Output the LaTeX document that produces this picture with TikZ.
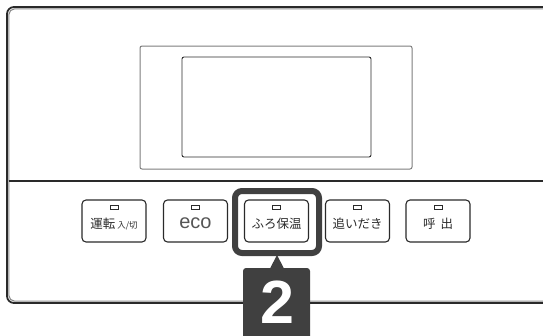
\documentclass[tikz,border=0pt]{standalone}
\usepackage{fontspec}
\newfontfamily\jp{Noto Sans CJK JP}
\newfontfamily\ecofont{Liberation Sans}
\newfontfamily\numfont{Liberation Sans}
\usetikzlibrary{calc}
\definecolor{ink}{HTML}{2A2A2A}
\definecolor{hlgray}{HTML}{404040}
\definecolor{soft}{HTML}{8A8A8A}
\tikzset{
  btn/.style={draw=ink, line width=1.1pt, rounded corners=4pt, minimum width=64pt, minimum height=42pt, inner sep=0pt},
  led/.style={draw=ink, line width=0.7pt, minimum width=8pt, minimum height=4pt, inner sep=0pt},
  lbl/.style={inner sep=0pt, text=ink, font=\jp\fontsize{12.5}{12.5}\selectfont},
}
\begin{document}
\begin{tikzpicture}[x=1pt,y=-1pt]
\path[use as bounding box] (0,0) rectangle (543,335);
\clip (0,0) rectangle (543,335);
% outer frame
\draw[draw=ink, line width=1.8pt, rounded corners=7pt] (7,7) rectangle (570,303);
\draw[draw=soft, line width=1.1pt, rounded corners=5.5pt] (8.9,8.9) rectangle (570,301.1);
% divider
\draw[draw=ink, line width=1.8pt] (8.5,181) -- (543,181);
% screen
\draw[draw=soft!90!black, line width=1pt, rounded corners=2pt] (140,46) rectangle (412,169);
\draw[draw=ink, line width=0.9pt, rounded corners=2pt] (182,57) rectangle (371,157);
% buttons
\node[btn] (b1) at (114,221) {};
\node[btn] (b2) at (195.5,221) {};
\node[btn] (b3) at (276.5,221) {};
\node[btn] (b4) at (357.5,221) {};
\node[btn] (b5) at (438,221) {};
\foreach \b in {b1,b2,b3,b4,b5}{
  \node[led] (\b led) at ($(\b.center)+(0,-14)$) {};
}
\node[lbl, anchor=base] (t1) at ($(b1.center)+(0,7.5)$) {運転\,{\fontsize{8.5}{8.5}\selectfont 入/切}};
\node[inner sep=0pt, text=ink!80, font=\ecofont\fontsize{20}{20}\selectfont, anchor=base] (t2) at ($(b2.center)+(0,7.5)$) {eco};
\node[lbl, anchor=base] (t3) at ($(b3.center)+(0,7.5)$) {ふろ保温};
\node[lbl, anchor=base] (t4) at ($(b4.center)+(0,7.5)$) {追いだき};
\node[lbl, anchor=base] (t5) at ($(b5.center)+(0,7.5)$) {呼\hspace{5pt}出};
% highlight
\draw[draw=hlgray, line width=6pt, rounded corners=7pt] (235,191) rectangle (319,253);
\fill[hlgray] (270,268.5) -- (277,255) -- (284,268.5) -- cycle;
\fill[hlgray, rounded corners=3pt] (243,268) rectangle (310,345);
\node[inner sep=0pt, text=white, font=\numfont\bfseries\fontsize{61}{61}\selectfont, anchor=base] (n2) at (277,323) {2};
\end{tikzpicture}
\end{document}
